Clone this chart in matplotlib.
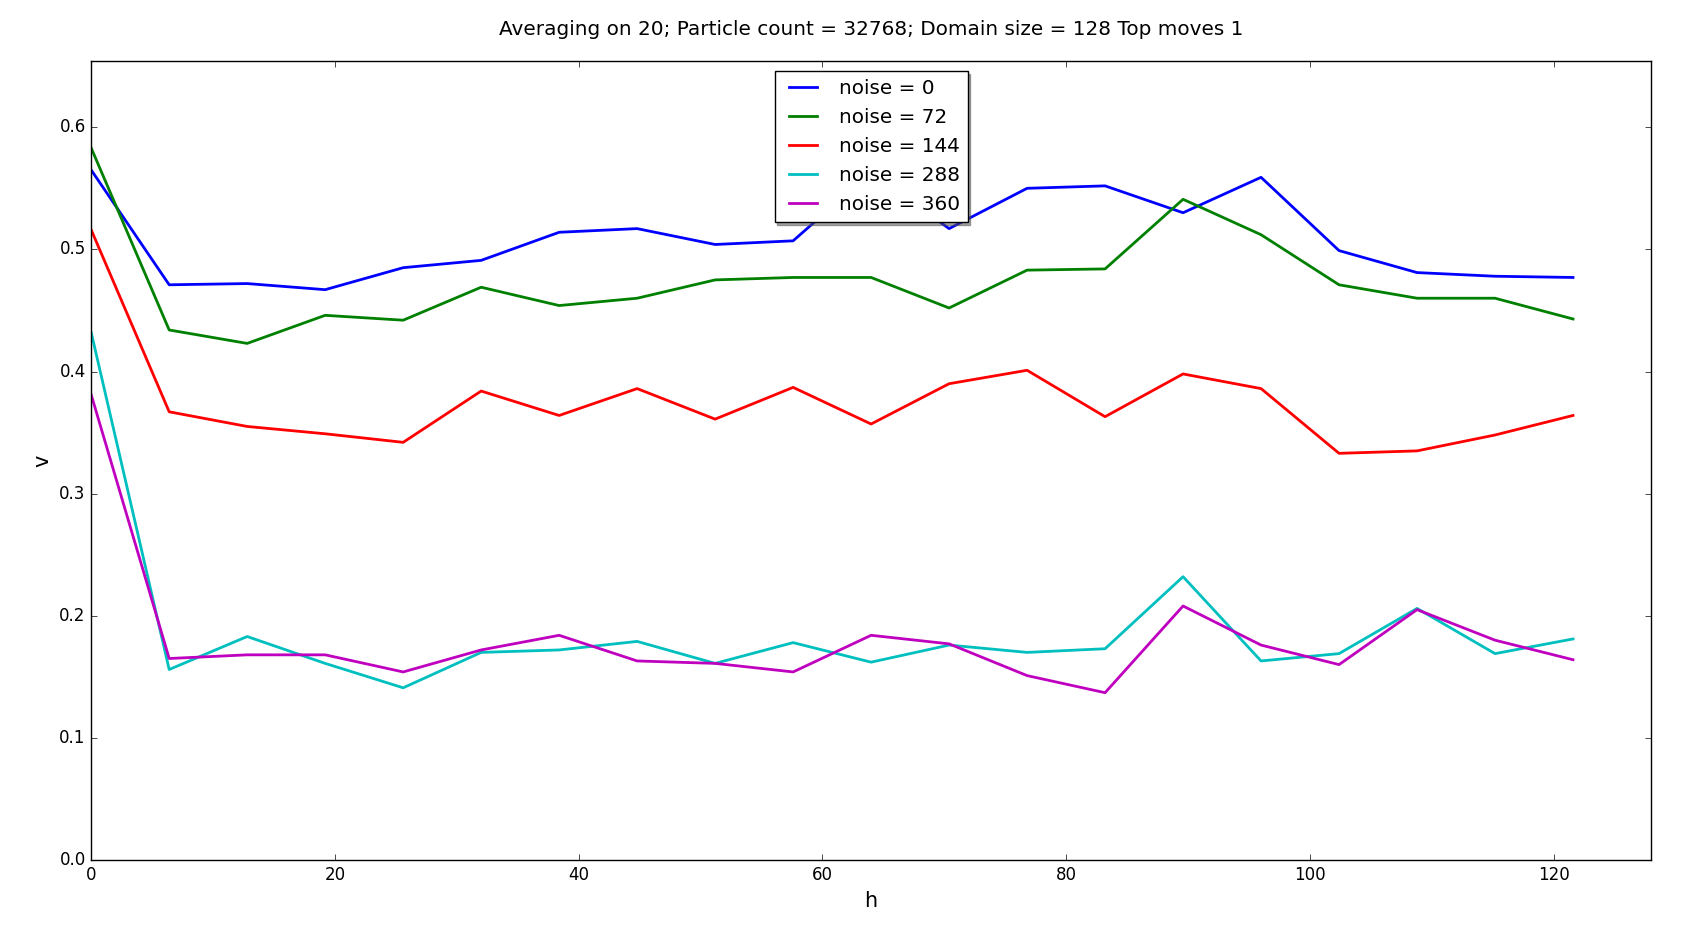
import matplotlib
matplotlib.use('Agg')
import matplotlib.pyplot as plt

plt.style.use('classic')

# h positions (domain 128 split into 20 steps)
h = [0, 6.4, 12.8, 19.2, 25.6, 32, 38.4, 44.8, 51.2, 57.6,
     64, 70.4, 76.8, 83.2, 89.6, 96, 102.4, 108.8, 115.2, 121.6]

v_noise_0 = [0.565, 0.471, 0.472, 0.467, 0.485, 0.491, 0.514, 0.517, 0.504, 0.507,
             0.563, 0.517, 0.550, 0.552, 0.530, 0.559, 0.499, 0.481, 0.478, 0.477]
v_noise_72 = [0.583, 0.434, 0.423, 0.446, 0.442, 0.469, 0.454, 0.460, 0.475, 0.477,
              0.477, 0.452, 0.483, 0.484, 0.541, 0.512, 0.471, 0.460, 0.460, 0.443]
v_noise_144 = [0.516, 0.367, 0.355, 0.349, 0.342, 0.384, 0.364, 0.386, 0.361, 0.387,
               0.357, 0.390, 0.401, 0.363, 0.398, 0.386, 0.333, 0.335, 0.348, 0.364]
v_noise_288 = [0.432, 0.156, 0.183, 0.161, 0.141, 0.170, 0.172, 0.179, 0.161, 0.178,
               0.162, 0.176, 0.170, 0.173, 0.232, 0.163, 0.169, 0.206, 0.169, 0.181]
v_noise_360 = [0.381, 0.165, 0.168, 0.168, 0.154, 0.172, 0.184, 0.163, 0.161, 0.154,
               0.184, 0.177, 0.151, 0.137, 0.208, 0.176, 0.160, 0.205, 0.180, 0.164]

noises = [0, 72, 144, 288, 360]
series = [v_noise_0, v_noise_72, v_noise_144, v_noise_288, v_noise_360]
colors = ['b', 'g', 'r', 'c', 'm']

fig = plt.figure(figsize=(16.89, 9.43), dpi=100, facecolor='white')
ax = fig.add_axes([0.054, 0.088, 0.9235, 0.847])

for n, vals, c in zip(noises, series, colors):
    ax.plot(h, vals, color=c, linewidth=2.0, label='noise = %d' % n)

ax.set_xlim(0, 128)
ax.set_ylim(0, 0.654)
ax.set_xlabel('h', fontsize=15)
ax.set_ylabel('v', fontsize=15)
ax.set_title('Averaging on 20; Particle count = 32768; Domain size = 128 Top moves 1',
             fontsize=14.4, y=1.0, pad=19)

leg = ax.legend(loc='upper center', shadow=True, fontsize=14.4)

fig.savefig('out.png', dpi=100, facecolor='white')
